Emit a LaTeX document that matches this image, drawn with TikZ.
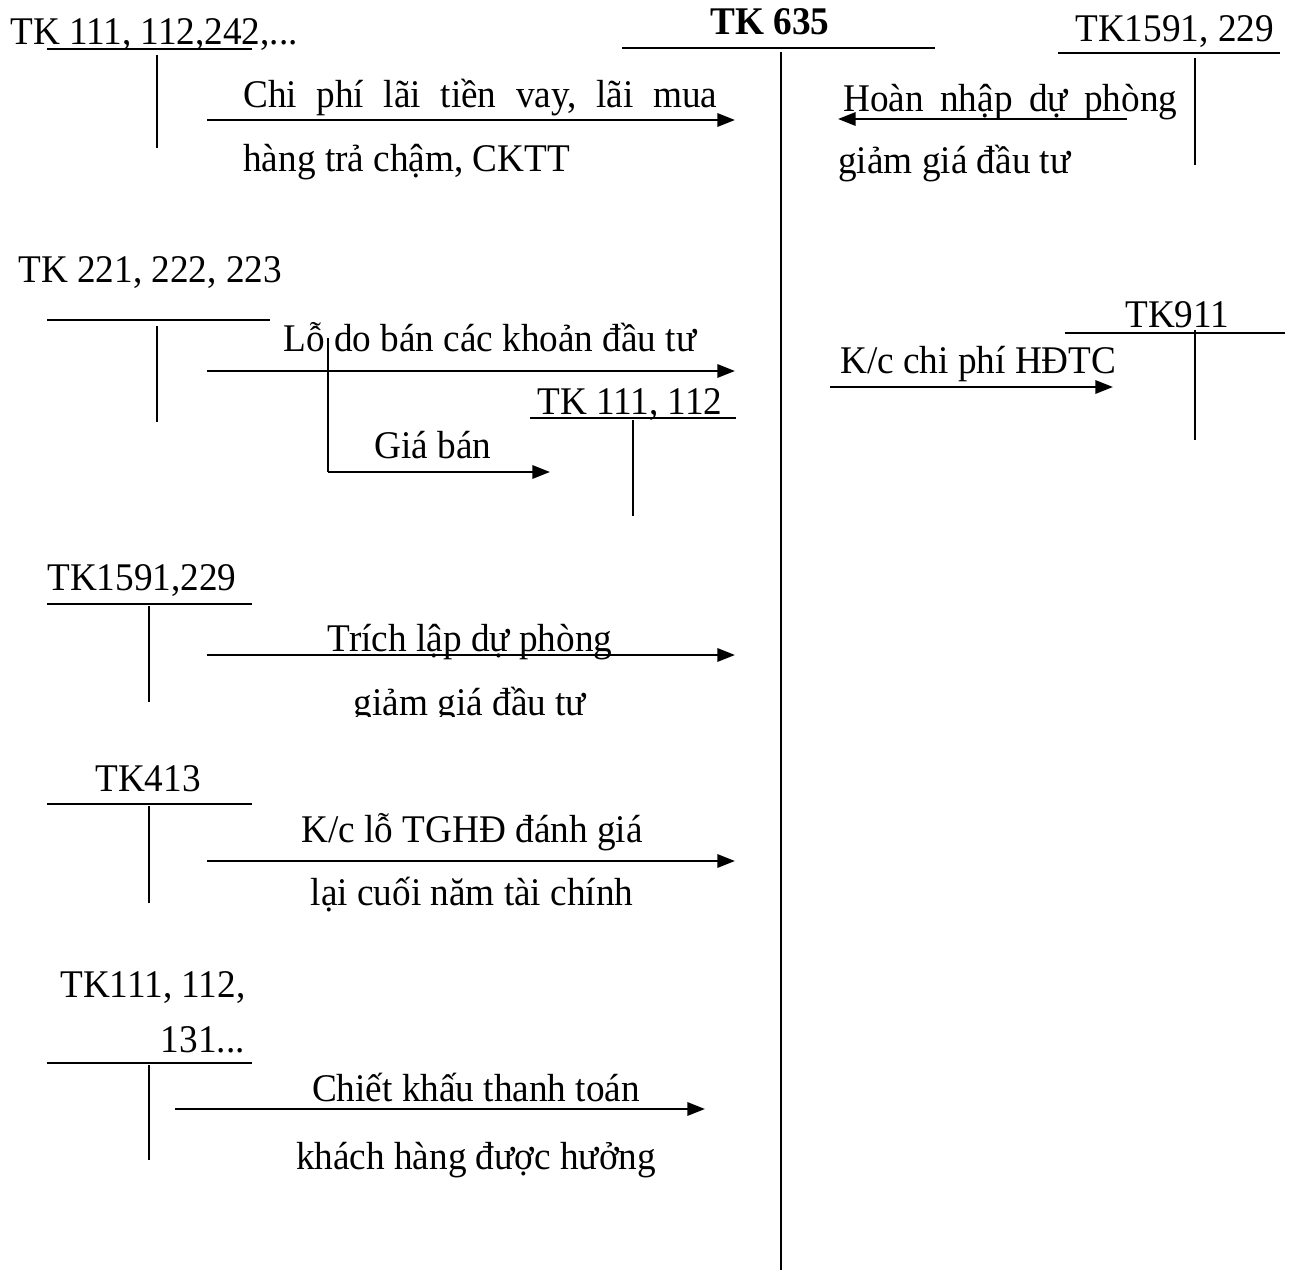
\documentclass[tikz,border=0pt]{standalone}
\usepackage{fontspec}
\setmainfont[FakeStretch=0.95]{Liberation Serif}
\usetikzlibrary{arrows.meta}
\newcommand\tkfont{\fontsize{22.3pt}{26pt}\selectfont}
\tikzset{
  lbl/.style={font=\tkfont,inner sep=0pt,anchor=base west},
  tline/.style={line width=1pt},
  arr/.style={line width=1.4pt,-{Triangle[length=10pt,width=7.5pt]}}
}
\begin{document}
\begin{tikzpicture}[x=0.02cm,y=-0.02cm]
\useasboundingbox (0,0) rectangle (1298,1270);
% TK 635
\node[lbl,anchor=base,font=\tkfont\bfseries] (tk635) at (770,35) {TK 635};
\draw[tline] (622,48) -- (935,48);
\draw[tline] (781,52) -- (781,1270);
% left column
\node[lbl] (tk111a) at (10,45) {TK 111, 112,242,...};
\draw[tline] (47,49) -- (252,49);
\draw[tline] (157,55) -- (157,148);
\coordinate (s1) at (207,120);
\coordinate (e1) at (735,120);
\draw[arr] (s1) -- (e1);
\node[lbl] (t1a) at (243,108) {\hbox to 9.48cm{Chi\hfill phí\hfill lãi\hfill tiền\hfill vay,\hfill lãi\hfill mua}};
\node[lbl] (t1b) at (243,172) {hàng trả chậm, CKTT};
\node[lbl] (tk221) at (18,283) {TK 221, 222, 223};
\draw[tline] (47,320) -- (270,320);
\draw[tline] (157,326) -- (157,422);
\coordinate (s3) at (207,371);
\coordinate (e3) at (735,371);
\draw[arr] (s3) -- (e3);
\node[lbl] (t3) at (283,352) {Lỗ do bán các khoản đầu tư};
\coordinate (b1) at (328,338);
\coordinate (b2) at (328,472);
\coordinate (b3) at (550,472);
\draw[tline] (b1) -- (b2);
\draw[arr] (b2) -- (b3);
\node[lbl,anchor=base] (tgb) at (433,459) {Giá bán};
\node[lbl] (tk111b) at (537,415) {TK 111, 112};
\draw[tline] (530,418) -- (736,418);
\draw[tline] (633,420) -- (633,516);
\node[lbl] (tk1591b) at (47,590) {TK1591,229};
\draw[tline] (47,604) -- (252,604);
\draw[tline] (149,606) -- (149,702);
\coordinate (s4) at (207,655);
\coordinate (e4) at (735,655);
\draw[arr] (s4) -- (e4);
\node[lbl,anchor=base] (t4a) at (470,651) {Trích lập dự phòng};
\begin{scope}
\clip (300,670) rectangle (640,716);
\node[lbl,anchor=base] (t4b) at (470,715) {giảm giá đầu tư};
\end{scope}
\node[lbl] (tk413) at (95,791) {TK413};
\draw[tline] (47,804) -- (252,804);
\draw[tline] (149,806) -- (149,903);
\coordinate (s5) at (207,861);
\coordinate (e5) at (735,861);
\draw[arr] (s5) -- (e5);
\node[lbl,anchor=base] (t5a) at (472,842) {K/c lỗ TGHĐ đánh giá};
\node[lbl,anchor=base] (t5b) at (472,905) {lại cuối năm tài chính};
\node[lbl] (tk111c) at (60,997) {TK111, 112,};
\node[lbl,anchor=base east] (tk131) at (245,1052) {131...};
\draw[tline] (47,1063) -- (252,1063);
\draw[tline] (149,1065) -- (149,1160);
\coordinate (s6) at (175,1109);
\coordinate (e6) at (705,1109);
\draw[arr] (s6) -- (e6);
\node[lbl,anchor=base] (t6a) at (476,1101) {Chiết khấu thanh toán};
\node[lbl,anchor=base] (t6b) at (476,1169) {khách hàng được hưởng};
% right column
\node[lbl] (tk1591a) at (1075,42) {TK1591, 229};
\draw[tline] (1058,53) -- (1280,53);
\draw[tline] (1195,58) -- (1195,165);
\coordinate (s2) at (1127,119);
\coordinate (e2) at (838,119);
\draw[arr] (s2) -- (e2);
\node[lbl] (t2a) at (843,112) {\hbox to 6.68cm{Hoàn\hfill nhập\hfill dự\hfill phòng}};
\node[lbl] (t2b) at (838,174) {giảm giá đầu tư};
\node[lbl] (tk911) at (1125,328) {TK911};
\draw[tline] (1065,333) -- (1285,333);
\draw[tline] (1195,330) -- (1195,440);
\coordinate (s7) at (830,387);
\coordinate (e7) at (1113,387);
\draw[arr] (s7) -- (e7);
\node[lbl] (t7) at (840,374) {K/c chi phí HĐTC};
\end{tikzpicture}
\end{document}
